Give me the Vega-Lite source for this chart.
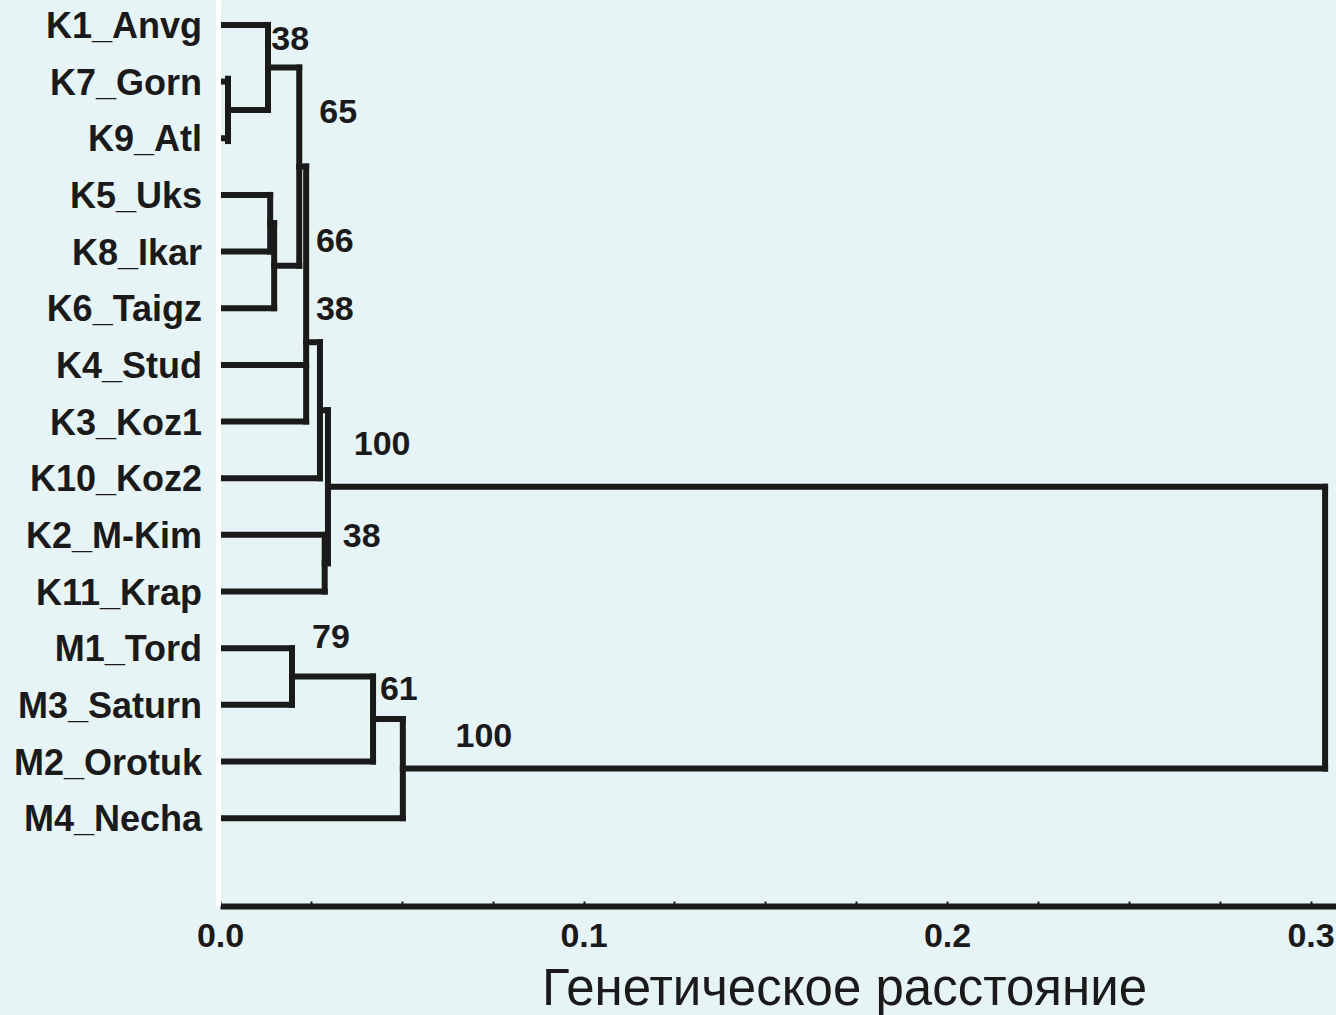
{
  "$schema": "https://vega.github.io/schema/vega-lite/v6.json",
  "autosize": {"type": "none"},
  "padding": {"left": 220, "top": 0, "right": 0, "bottom": 109},
  "width": 1116,
  "height": 906,
  "background": "#e7f4f5",
  "config": {"view": {"stroke": null}, "font": "Liberation Sans"},
  "datasets": {
    "segments": [
      {"x1": 0, "x2": 0.0132, "y1": 0, "y2": 0},
      {"x1": 0, "x2": 0.0022, "y1": 1, "y2": 1},
      {"x1": 0, "x2": 0.0022, "y1": 2, "y2": 2},
      {"x1": 0, "x2": 0.0138, "y1": 3, "y2": 3},
      {"x1": 0, "x2": 0.0138, "y1": 4, "y2": 4},
      {"x1": 0, "x2": 0.0149, "y1": 5, "y2": 5},
      {"x1": 0, "x2": 0.0237, "y1": 6, "y2": 6},
      {"x1": 0, "x2": 0.0237, "y1": 7, "y2": 7},
      {"x1": 0, "x2": 0.0275, "y1": 8, "y2": 8},
      {"x1": 0, "x2": 0.0288, "y1": 9, "y2": 9},
      {"x1": 0, "x2": 0.0288, "y1": 10, "y2": 10},
      {"x1": 0, "x2": 0.0198, "y1": 11, "y2": 11},
      {"x1": 0, "x2": 0.0198, "y1": 12, "y2": 12},
      {"x1": 0, "x2": 0.0421, "y1": 13, "y2": 13},
      {"x1": 0, "x2": 0.0503, "y1": 14, "y2": 14},
      {"x1": 0.0022, "x2": 0.0022, "y1": 0.95, "y2": 2.05},
      {"x1": 0.0132, "x2": 0.0132, "y1": 0, "y2": 1.5},
      {"x1": 0.0138, "x2": 0.0138, "y1": 3, "y2": 4},
      {"x1": 0.0149, "x2": 0.0149, "y1": 3.5, "y2": 5},
      {"x1": 0.0218, "x2": 0.0218, "y1": 0.75, "y2": 4.25},
      {"x1": 0.0237, "x2": 0.0237, "y1": 2.5, "y2": 7},
      {"x1": 0.0275, "x2": 0.0275, "y1": 5.6, "y2": 8},
      {"x1": 0.0288, "x2": 0.0288, "y1": 9, "y2": 10},
      {"x1": 0.0297, "x2": 0.0297, "y1": 6.8, "y2": 9.5},
      {"x1": 0.0198, "x2": 0.0198, "y1": 11, "y2": 12},
      {"x1": 0.0421, "x2": 0.0421, "y1": 11.5, "y2": 13},
      {"x1": 0.0503, "x2": 0.0503, "y1": 12.25, "y2": 14},
      {"x1": 0.304, "x2": 0.304, "y1": 8.15, "y2": 13.125},
      {"x1": 0.0022, "x2": 0.0132, "y1": 1.5, "y2": 1.5},
      {"x1": 0.0132, "x2": 0.0218, "y1": 0.75, "y2": 0.75},
      {"x1": 0.0138, "x2": 0.0149, "y1": 3.5, "y2": 3.5},
      {"x1": 0.0149, "x2": 0.0218, "y1": 4.25, "y2": 4.25},
      {"x1": 0.0218, "x2": 0.0237, "y1": 2.5, "y2": 2.5},
      {"x1": 0.0237, "x2": 0.0275, "y1": 5.6, "y2": 5.6},
      {"x1": 0.0275, "x2": 0.0297, "y1": 6.8, "y2": 6.8},
      {"x1": 0.0288, "x2": 0.0297, "y1": 9.5, "y2": 9.5},
      {"x1": 0.0297, "x2": 0.304, "y1": 8.15, "y2": 8.15},
      {"x1": 0.0198, "x2": 0.0421, "y1": 11.5, "y2": 11.5},
      {"x1": 0.0421, "x2": 0.0503, "y1": 12.25, "y2": 12.25},
      {"x1": 0.0503, "x2": 0.304, "y1": 13.125, "y2": 13.125}
    ],
    "leaves": [
      {"name": "K1_Anvg", "pos": 0},
      {"name": "K7_Gorn", "pos": 1},
      {"name": "K9_Atl", "pos": 2},
      {"name": "K5_Uks", "pos": 3},
      {"name": "K8_Ikar", "pos": 4},
      {"name": "K6_Taigz", "pos": 5},
      {"name": "K4_Stud", "pos": 6},
      {"name": "K3_Koz1", "pos": 7},
      {"name": "K10_Koz2", "pos": 8},
      {"name": "K2_M-Kim", "pos": 9},
      {"name": "K11_Krap", "pos": 10},
      {"name": "M1_Tord", "pos": 11},
      {"name": "M3_Saturn", "pos": 12},
      {"name": "M2_Orotuk", "pos": 13},
      {"name": "M4_Necha", "pos": 14}
    ],
    "support": [
      {"value": "38", "dist": 0.0193, "pos": 0.26},
      {"value": "65", "dist": 0.0325, "pos": 1.55},
      {"value": "66", "dist": 0.0316, "pos": 3.83},
      {"value": "38", "dist": 0.0316, "pos": 5.03},
      {"value": "100", "dist": 0.0446, "pos": 7.42},
      {"value": "38", "dist": 0.039, "pos": 9.04},
      {"value": "79", "dist": 0.0305, "pos": 10.82},
      {"value": "61", "dist": 0.0492, "pos": 11.74},
      {"value": "100", "dist": 0.0726, "pos": 12.57}
    ]
  },
  "layer": [
    {
      "data": {"name": "segments"},
      "mark": {"type": "rule", "color": "#1a1a1a", "strokeWidth": 6, "strokeCap": "square"},
      "encoding": {
        "x": {
          "field": "x1", "type": "quantitative",
          "scale": {"domain": [0, 0.307], "nice": false, "zero": false},
          "axis": {
            "values": [0, 0.025, 0.05, 0.075, 0.1, 0.125, 0.15, 0.175, 0.2, 0.225, 0.25, 0.275, 0.3],
            "labelExpr": "round(datum.value * 40) % 4 == 0 ? format(datum.value, '.1f') : ''",
            "domainColor": "#1a1a1a", "domainWidth": 6,
            "tickColor": "#1a1a1a", "tickSize": -5, "tickWidth": 2,
            "grid": false,
            "labelFont": "Liberation Sans", "labelFontWeight": "bold", "labelFontSize": 34,
            "labelColor": "#1a1a1a", "labelPadding": 18, "labelFlush": false, "labelOverlap": false,
            "title": "Генетическое расстояние",
            "titleFont": "Liberation Sans", "titleFontWeight": "normal", "titleFontSize": 51,
            "titleColor": "#1a1a1a", "titleX": 624, "titleY": 98, "titleBaseline": "alphabetic", "titleAlign": "center", "titleAnchor": null
          }
        },
        "x2": {"field": "x2"},
        "y": {
          "field": "y1", "type": "quantitative",
          "scale": {"domain": [-0.44, 15.55], "reverse": true, "nice": false, "zero": false},
          "axis": {"labels": false, "ticks": false, "grid": false, "title": null, "domainColor": "#ffffff", "domainWidth": 5, "offset": 2, "zindex": 1}
        },
        "y2": {"field": "y2"}
      }
    },
    {
      "data": {"name": "leaves"},
      "mark": {"type": "text", "align": "right", "baseline": "middle", "dx": -18, "dy": 2, "font": "Liberation Sans", "fontWeight": "bold", "fontSize": 36, "color": "#1a1a1a"},
      "encoding": {
        "x": {"datum": 0, "type": "quantitative"},
        "y": {"field": "pos", "type": "quantitative"},
        "text": {"field": "name"}
      }
    },
    {
      "data": {"name": "support"},
      "mark": {"type": "text", "align": "center", "baseline": "middle", "font": "Liberation Sans", "fontWeight": "bold", "fontSize": 34, "color": "#1a1a1a"},
      "encoding": {
        "x": {"field": "dist", "type": "quantitative"},
        "y": {"field": "pos", "type": "quantitative"},
        "text": {"field": "value"}
      }
    }
  ]
}
